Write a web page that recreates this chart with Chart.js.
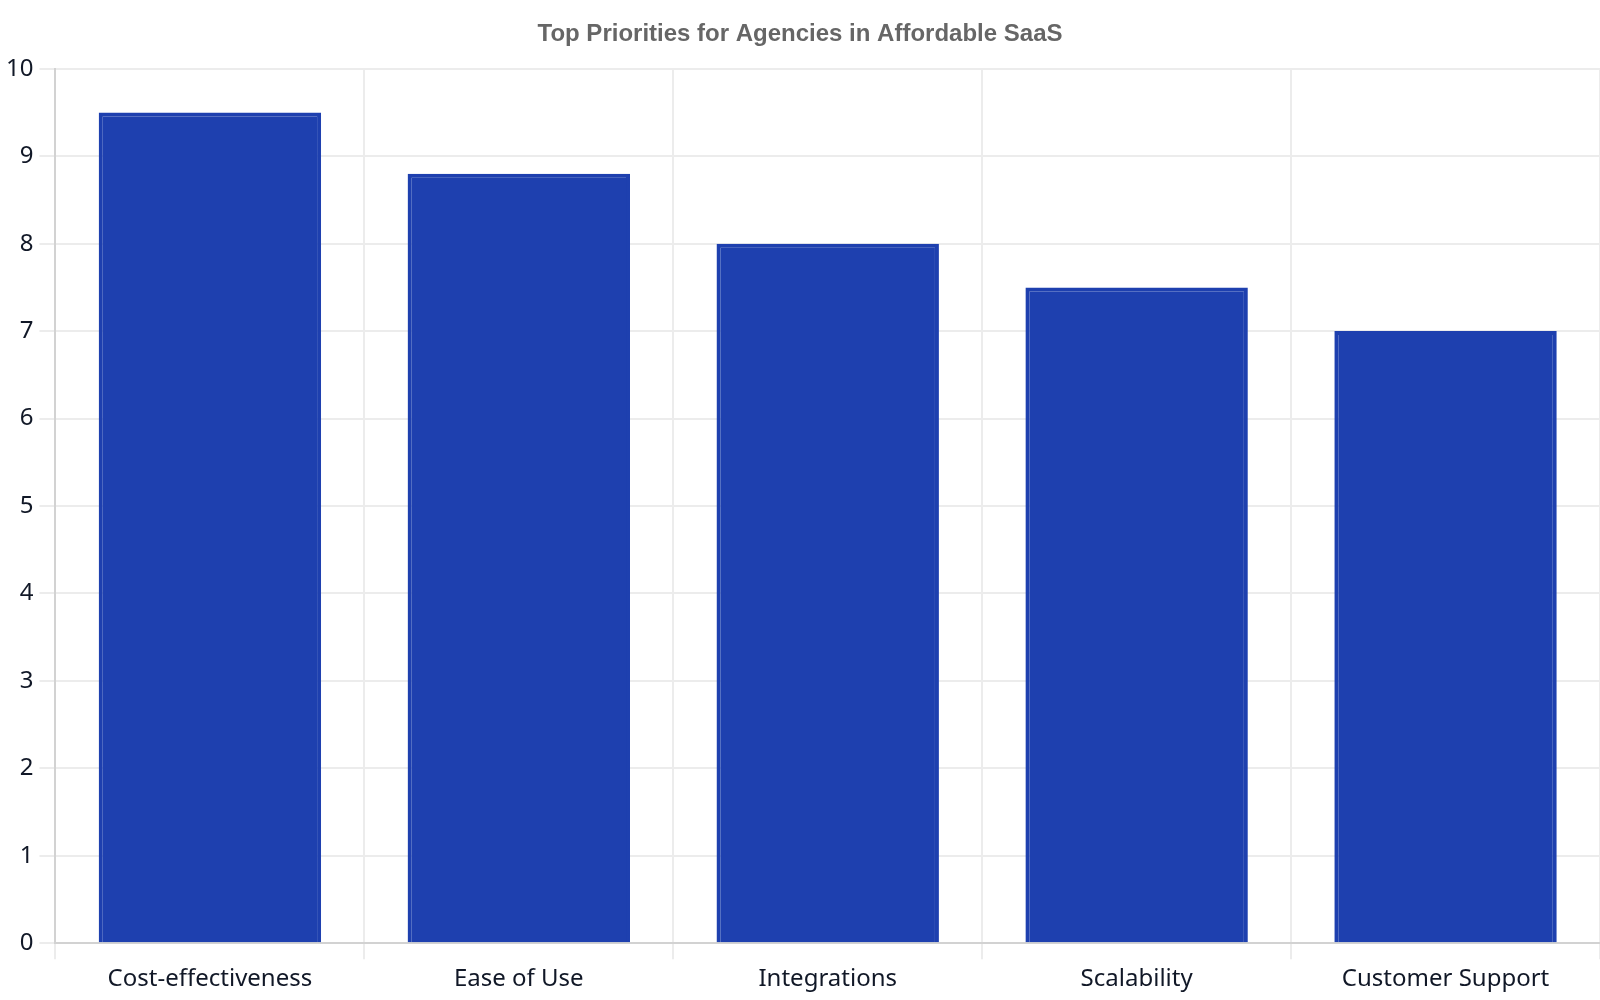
<!DOCTYPE html>
<html>
<head>
<meta charset="utf-8">
<script src="https://cdn.jsdelivr.net/npm/chart.js@4"></script>
<style>
  html, body { margin: 0; padding: 0; background: #fff; }
  #wrap { width: 1600px; height: 1000px; position: relative; }
</style>
</head>
<body>
<div id="wrap"><canvas id="priorities"></canvas></div>
<script>
// chart data
var categories = ["Cost-effectiveness", "Ease of Use", "Integrations", "Scalability", "Customer Support"];
var scores = [9.5, 8.8, 8.0, 7.5, 7.0];
var yTicks = [0, 1, 2, 3, 4, 5, 6, 7, 8, 9, 10];

document.addEventListener('DOMContentLoaded', function () {
    var ctx = document.getElementById('priorities').getContext('2d');
    var chart = new Chart(ctx, {
        type: 'bar',
        data: {
            labels: categories,
            datasets: [{
                label: 'Priority score',
                data: scores,
                backgroundColor: '#1e40af',
                borderColor: '#1e40af',
                borderWidth: 4
            }]
        },
        options: {
            responsive: true,
            maintainAspectRatio: false,
            animation: false,
            layout: { padding: 0 },
            plugins: {
                legend: { display: false },
                title: {
                    display: true,
                    text: 'Top Priorities for Agencies in Affordable SaaS',
                    color: '#666',
                    font: { family: "'Liberation Sans', Arial, sans-serif", size: 24, weight: 'bold' },
                    padding: 20
                }
            },
            scales: {
                x: {
                    grid: { lineWidth: 2, tickLength: 16, color: '#ececec' },
                    border: { width: 2, color: '#d2d2d2' },
                    ticks: {
                        color: '#111827',
                        padding: 6,
                        font: { family: "'Noto Sans', sans-serif", size: 24 }
                    }
                },
                y: {
                    min: yTicks[0],
                    max: yTicks[yTicks.length - 1],
                    afterBuildTicks: function (axis) {
                        axis.ticks = yTicks.map(function (v) { return { value: v }; });
                    },
                    grid: { lineWidth: 2, tickLength: 16, color: '#ececec' },
                    border: { width: 2, color: '#d2d2d2' },
                    ticks: {
                        color: '#111827',
                        padding: 6,
                        font: { family: "'Noto Sans', sans-serif", size: 24 }
                    }
                }
            }
        }
    });
});
</script>
</body>
</html>
